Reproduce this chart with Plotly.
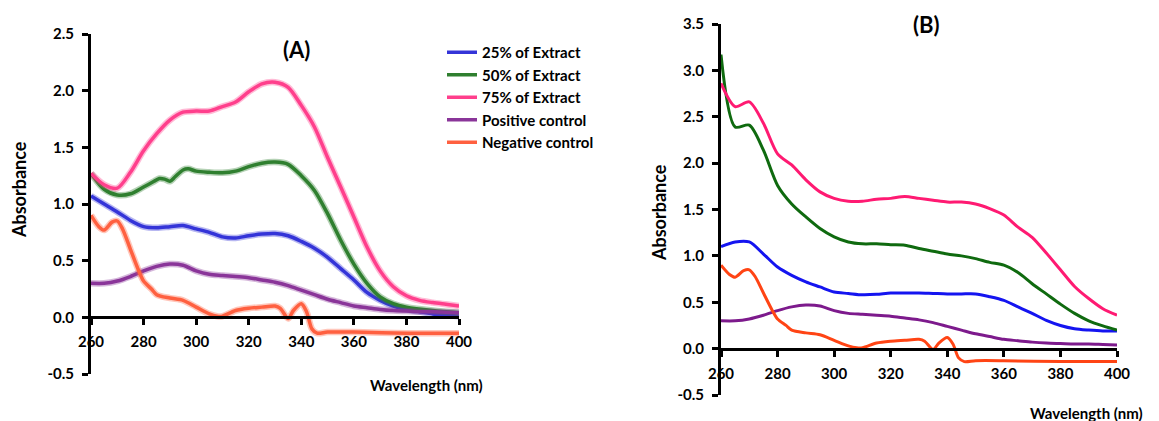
import plotly.graph_objects as go

# ---------------- data ----------------
wl = list(range(260, 401, 5))

# Panel A
a_25 = [1.07, 1.00, 0.93, 0.855, 0.80, 0.79, 0.80, 0.81, 0.78, 0.75, 0.71, 0.70, 0.72, 0.735, 0.74,
        0.72, 0.67, 0.61, 0.53, 0.43, 0.33, 0.22, 0.15, 0.10, 0.07, 0.05, 0.03, 0.02, 0.01]
wl_a50 = [260, 265, 270, 275, 280, 284, 286, 288, 290, 292, 295, 297, 300, 305, 310, 315, 320, 325,
          330, 335, 340, 345, 350, 355, 360, 365, 370, 375, 380, 390, 400]
a_50 = [1.27, 1.13, 1.08, 1.09, 1.15, 1.20, 1.225, 1.22, 1.20, 1.24, 1.30, 1.31, 1.29, 1.28, 1.275,
        1.29, 1.33, 1.36, 1.37, 1.35, 1.25, 1.12, 0.915, 0.68, 0.47, 0.30, 0.18, 0.12, 0.09, 0.06, 0.04]
a_75 = [1.27, 1.17, 1.14, 1.28, 1.47, 1.62, 1.74, 1.81, 1.82, 1.82, 1.86, 1.90, 1.99, 2.06, 2.075,
        2.03, 1.87, 1.68, 1.41, 1.15, 0.885, 0.62, 0.41, 0.27, 0.19, 0.15, 0.13, 0.115, 0.10]

# controls (same in both panels)
pos_ctrl = [0.30, 0.30, 0.32, 0.36, 0.41, 0.45, 0.47, 0.46, 0.41, 0.38, 0.37, 0.36, 0.35, 0.33, 0.31,
            0.28, 0.24, 0.20, 0.16, 0.13, 0.10, 0.085, 0.07, 0.06, 0.055, 0.05, 0.05, 0.045, 0.04]
wl_neg = [260, 263, 265, 268, 270, 272, 275, 278, 280, 283, 285, 290, 295, 300, 305, 308, 310, 315,
          320, 325, 330, 332, 335, 337, 340, 342, 344, 346, 350, 360, 380, 400]
neg_ctrl = [0.90, 0.80, 0.77, 0.84, 0.85, 0.78, 0.60, 0.42, 0.32, 0.25, 0.20, 0.17, 0.15, 0.09, 0.03,
            0.01, 0.01, 0.06, 0.08, 0.09, 0.10, 0.08, -0.01, 0.06, 0.12, 0.05, -0.10, -0.14, -0.13,
            -0.13, -0.14, -0.14]

# Panel B
b_25 = [1.10, 1.15, 1.15, 1.02, 0.88, 0.79, 0.72, 0.665, 0.61, 0.595, 0.58, 0.585, 0.60, 0.60, 0.60,
        0.595, 0.59, 0.59, 0.59, 0.56, 0.52, 0.45, 0.38, 0.305, 0.25, 0.215, 0.20, 0.19, 0.19]
b_50 = [3.17, 2.39, 2.41, 2.14, 1.76, 1.56, 1.42, 1.295, 1.205, 1.15, 1.13, 1.13, 1.12, 1.115, 1.08,
        1.05, 1.02, 1.00, 0.97, 0.93, 0.90, 0.82, 0.70, 0.59, 0.48, 0.38, 0.30, 0.245, 0.20]
b_75 = [2.86, 2.61, 2.66, 2.43, 2.10, 1.98, 1.82, 1.69, 1.62, 1.59, 1.59, 1.61, 1.62, 1.64, 1.62,
        1.60, 1.58, 1.58, 1.56, 1.51, 1.44, 1.31, 1.20, 1.03, 0.85, 0.67, 0.54, 0.43, 0.36]

names = ["25% of Extract", "50% of Extract", "75% of Extract", "Positive control", "Negative control"]
x_ticks = [260, 280, 300, 320, 340, 360, 380, 400]
ya_ticks = [-0.5, 0.0, 0.5, 1.0, 1.5, 2.0, 2.5]
ya_labels = ["-0.5", "0.0", "0.5", "1.0", "1.5", "2.0", "2.5"]
yb_ticks = [-0.5, 0.0, 0.5, 1.0, 1.5, 2.0, 2.5, 3.0, 3.5]
yb_labels = ["-0.5", "0.0", "0.5", "1.0", "1.5", "2.0", "2.5", "3.0", "3.5"]

cols_a = ["#3434d8", "#2f7f2f", "#ff3f8c", "#8a3599", "#ff6040"]
cols_b = ["#1414f0", "#0f6a0f", "#ff1a72", "#7d1a8c", "#ff4414"]

# ---------------- layout geometry ----------------
# the page body adds an 8px margin, so the figure is 8px smaller and coordinates are offset
OFF = 8
W, H = 1159 - OFF, 421 - OFF
def px_x(p): return (p - OFF) / W
def px_y(p): return 1 - (p - OFF) / H

ax_dom = [px_x(91), px_x(459)]
ay_dom = [px_y(374), px_y(34)]
bx_dom = [px_x(721), px_x(1117)]
by_dom = [px_y(395), px_y(24)]
a_zero = ay_dom[0] + (ay_dom[1] - ay_dom[0]) * 0.5 / 3.0
b_zero = by_dom[0] + (by_dom[1] - by_dom[0]) * 0.5 / 4.0

FONT = "Lato"
fig = go.Figure()

series_a = [(wl, a_25), (wl_a50, a_50), (wl, a_75), (wl, pos_ctrl), (wl_neg, neg_ctrl)]
series_b = [(wl, b_25), (wl, b_50), (wl, b_75), (wl, pos_ctrl), (wl_neg, neg_ctrl)]

for i, (xs, ys) in enumerate(series_a):
    # soft halo under the panel-A lines
    fig.add_trace(go.Scatter(x=xs, y=ys, mode="lines",
                             line=dict(color=cols_a[i], width=6.5, shape="spline", smoothing=0.8),
                             opacity=0.35, showlegend=False, hoverinfo="skip", xaxis="x", yaxis="y"))
    fig.add_trace(go.Scatter(x=xs, y=ys, mode="lines", name=names[i], legendgroup=names[i],
                             line=dict(color=cols_a[i], width=3.5, shape="spline", smoothing=0.8),
                             xaxis="x", yaxis="y"))

for i, (xs, ys) in enumerate(series_b):
    fig.add_trace(go.Scatter(x=xs, y=ys, mode="lines", name=names[i], showlegend=False,
                             line=dict(color=cols_b[i], width=3, shape="spline", smoothing=0.8),
                             xaxis="x2", yaxis="y2"))

tickfont = dict(family=FONT, size=15, color="black", weight="bold")
common_x = dict(range=[260, 400], tickvals=x_ticks, showline=True, linewidth=3, linecolor="black",
                ticks="outside", ticklen=6, tickwidth=3, tickcolor="black", showgrid=False,
                zeroline=False, tickfont=tickfont, anchor="free", automargin=False,
                ticklabelstandoff=4)
common_y = dict(showline=True, linewidth=3, linecolor="black", ticks="outside", ticklen=6,
                tickwidth=3, tickcolor="black", showgrid=False, zeroline=False, tickfont=tickfont,
                ticklabelstandoff=5, automargin=False)

fig.update_layout(
    width=W, height=H, margin=dict(l=0, r=0, t=0, b=0, autoexpand=False),
    paper_bgcolor="white", plot_bgcolor="white",
    xaxis=dict(domain=ax_dom, position=a_zero, **common_x),
    yaxis=dict(domain=ay_dom, range=[-0.5, 2.5], anchor="x", tickvals=ya_ticks, ticktext=ya_labels,
               **common_y),
    xaxis2=dict(domain=bx_dom, position=b_zero, **common_x),
    yaxis2=dict(domain=by_dom, range=[-0.5, 3.5], anchor="x2", tickvals=yb_ticks, ticktext=yb_labels,
                **common_y),
    legend=dict(x=px_x(442), y=px_y(36), xanchor="left", yanchor="top", bgcolor="rgba(0,0,0,0)",
                font=dict(family=FONT, size=15, color="black", weight="bold"), itemwidth=30,
                tracegroupgap=0),
    showlegend=True,
)

ann_font = dict(family=FONT, size=15, color="black", weight="bold")
abs_font = dict(family=FONT, size=18, color="black", weight="bold")
ttl_font = dict(family=FONT, size=22, color="black", weight="bold")

def label(text, x, y, font, angle=0, yanchor="middle"):
    fig.add_annotation(text=text, x=px_x(x), y=px_y(y), xref="paper", yref="paper",
                       xanchor="center", yanchor=yanchor, showarrow=False, textangle=angle,
                       font=font)

label("(A)", 297, 50, ttl_font)
label("(B)", 927, 25, ttl_font)
label("Absorbance", 19, 190, abs_font, angle=-90)
label("Absorbance", 659, 213, abs_font, angle=-90)
label("Wavelength (nm)", 426, 385, ann_font)
label("Wavelength (nm)", 1086, 402, ann_font, yanchor="top")

fig.write_html("out.html")
